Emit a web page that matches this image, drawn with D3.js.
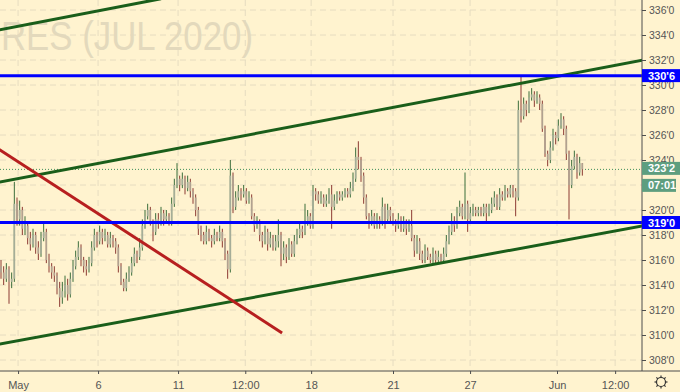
<!DOCTYPE html>
<html>
<head>
<meta charset="utf-8">
<script src="https://cdn.jsdelivr.net/npm/d3@7"></script>
<style>
  html, body { margin: 0; padding: 0; background: #fff3cf; }
  svg { display: block; font-family: 'Liberation Sans', Arial, sans-serif; }
</style>
</head>
<body>
<svg id="chart"></svg>
<script>
/* global d3 */
const width = 680
const height = 392
const plot = { right: 642, bottom: 371 }

/** hourly-ish bars, corn JUL 2020 */
const opens = [
  315.5, 315.0, 314.5, 315.25, 314.25, 314.5, 320.5, 319.25, 320.0, 318.5,
  318.75, 317.75, 317.25, 318.0, 317.0, 316.5, 317.75, 318.25, 316.0, 315.5,
  315.0, 314.75, 313.75, 313.0, 313.5, 314.0, 313.25, 314.5, 315.5, 316.25,
  317.0, 316.0, 315.5, 315.25, 315.75, 317.0, 318.0, 317.5, 318.25, 317.75,
  318.0, 317.25, 317.75, 317.5, 317.0, 315.5, 314.25, 313.75, 314.5, 315.0,
  315.75, 316.5, 316.25, 317.0, 318.75, 319.5, 320.0, 319.0, 318.25, 319.25,
  319.0, 319.75, 319.25, 319.5, 319.0, 320.5, 322.0, 322.5, 322.0, 322.5,
  321.75, 322.25, 321.5, 321.0, 320.0, 318.5, 318.0, 317.5, 318.25, 317.75,
  317.5, 318.0, 317.75, 318.25, 317.5, 316.5, 315.25, 322.75, 320.25, 321.0,
  321.5, 321.25, 321.5, 320.75, 321.0, 319.5, 318.75, 319.0, 318.0, 317.5,
  318.25, 317.25, 317.75, 317.0, 317.5, 318.0, 316.5, 317.0, 316.25, 317.25,
  316.5, 317.5, 318.0, 318.5, 318.25, 319.0, 319.5, 318.75, 321.5, 321.25,
  320.75, 321.0, 320.5, 320.75, 321.25, 320.25, 320.75, 321.25, 321.0, 321.25,
  321.5, 321.25, 321.75, 322.5, 324.25, 324.0, 322.75, 321.0, 319.5, 319.0,
  319.5, 318.75, 319.25, 319.0, 320.25, 319.25, 320.0, 319.5, 319.0, 318.75,
  319.25, 318.5, 319.0, 318.5, 318.75, 317.75, 316.75, 317.5, 316.5, 316.0,
  316.75, 316.25, 316.0, 316.5, 316.0, 316.25, 316.0, 316.5, 317.5, 318.25,
  319.0, 318.75, 319.75, 320.25, 319.5, 320.5, 319.25, 319.75, 320.0, 319.75,
  320.0, 319.75, 320.25, 319.75, 320.0, 320.5, 321.0, 320.25, 321.25, 321.0,
  321.5, 321.25, 321.75, 321.5, 321.0, 328.0, 327.5, 328.5, 328.0, 329.0,
  329.25, 328.75, 329.0, 328.5, 326.5, 324.5, 324.0, 325.0, 326.0, 325.75,
  326.75, 327.25, 326.5, 324.5, 322.0, 323.5, 324.25, 323.0, 323.75
]
const highs = [
  316.0, 315.5, 315.75, 315.5, 315.0, 322.25, 321.0, 320.75, 320.25, 319.5,
  319.0, 318.25, 318.5, 318.25, 317.5, 318.25, 319.0, 318.5, 316.5, 315.75,
  315.5, 315.0, 314.25, 314.25, 314.75, 314.5, 315.0, 316.0, 316.75, 317.5,
  317.25, 316.25, 316.0, 316.25, 317.5, 318.5, 318.25, 318.75, 318.5, 318.5,
  318.25, 318.25, 318.0, 317.75, 317.25, 315.75, 314.5, 315.0, 315.5, 316.25,
  317.0, 316.75, 317.75, 319.25, 320.0, 320.5, 320.25, 319.25, 319.75, 319.75,
  320.25, 320.0, 320.0, 319.75, 321.0, 322.5, 323.75, 322.75, 323.0, 322.75,
  322.75, 322.5, 321.75, 321.25, 320.25, 318.75, 318.25, 318.75, 318.5, 318.0,
  318.5, 318.25, 318.75, 318.5, 317.75, 316.75, 324.0, 323.0, 321.5, 322.0,
  321.75, 322.0, 321.75, 321.5, 321.25, 319.75, 319.5, 319.25, 318.25, 318.75,
  318.5, 318.25, 318.0, 318.0, 319.25, 318.25, 317.5, 317.25, 317.75, 317.5,
  318.0, 318.5, 319.0, 318.75, 320.5, 320.0, 319.75, 322.0, 321.75, 321.5,
  321.5, 321.25, 321.25, 321.75, 322.0, 321.25, 321.5, 321.5, 321.5, 321.75,
  321.75, 322.25, 323.0, 325.0, 325.5, 324.25, 323.0, 321.25, 319.75, 320.0,
  319.75, 319.75, 319.5, 321.0, 320.5, 320.5, 320.25, 319.75, 319.25, 319.75,
  319.5, 319.5, 319.25, 319.25, 320.0, 318.0, 318.0, 317.75, 316.75, 317.25,
  317.0, 316.5, 317.0, 316.75, 316.75, 316.5, 317.0, 318.0, 318.75, 319.75,
  319.5, 320.25, 320.75, 320.5, 323.0, 320.75, 320.25, 320.5, 320.25, 320.25,
  320.25, 320.5, 320.5, 320.5, 321.0, 321.5, 321.25, 321.75, 321.5, 322.0,
  321.75, 322.0, 322.0, 321.75, 328.75, 330.75, 329.0, 328.75, 329.5, 329.75,
  329.5, 329.5, 329.25, 328.75, 326.75, 324.75, 325.5, 326.5, 326.25, 327.25,
  327.75, 327.5, 326.75, 324.75, 324.0, 324.75, 324.5, 324.25, 323.75
]
const lows = [
  314.5, 314.0, 314.25, 312.5, 313.75, 314.25, 318.75, 318.75, 318.0, 318.0,
  317.25, 316.75, 317.0, 316.5, 316.0, 316.25, 317.5, 315.75, 315.0, 314.5,
  314.25, 313.25, 312.25, 312.5, 313.0, 312.75, 313.0, 314.25, 315.25, 316.0,
  315.5, 315.0, 314.75, 315.0, 315.5, 316.75, 317.0, 317.25, 317.25, 317.5,
  317.0, 317.0, 317.0, 316.5, 315.0, 314.0, 313.5, 313.5, 314.25, 314.75,
  315.5, 315.75, 316.0, 316.75, 318.5, 319.25, 318.75, 317.5, 318.0, 318.5,
  318.75, 318.75, 319.0, 318.75, 318.75, 320.25, 321.75, 321.5, 321.75, 321.25,
  321.5, 321.0, 320.5, 319.5, 318.0, 317.5, 317.25, 317.25, 317.5, 317.0,
  317.25, 317.5, 317.5, 317.0, 316.0, 314.5, 315.0, 319.75, 320.0, 320.75,
  320.75, 321.0, 320.5, 320.5, 319.25, 318.25, 318.5, 317.5, 317.0, 317.25,
  316.75, 317.0, 316.75, 316.75, 317.0, 315.5, 316.0, 315.75, 316.0, 316.25,
  316.25, 317.25, 317.75, 317.75, 318.0, 318.75, 318.5, 318.5, 320.75, 320.5,
  320.5, 320.25, 320.25, 320.5, 318.5, 320.0, 320.5, 320.75, 320.75, 321.0,
  321.0, 321.0, 321.5, 322.25, 323.25, 322.25, 320.5, 319.25, 318.5, 318.75,
  318.5, 318.5, 318.5, 318.75, 318.5, 319.0, 319.0, 318.75, 318.25, 318.5,
  318.25, 318.25, 318.0, 318.25, 317.5, 316.25, 316.5, 316.0, 315.75, 315.75,
  316.0, 315.75, 315.75, 315.75, 315.75, 315.75, 315.75, 316.25, 317.25, 318.0,
  318.25, 318.5, 319.5, 319.25, 319.25, 318.25, 319.0, 319.5, 319.5, 319.5,
  319.5, 319.5, 319.0, 319.5, 319.75, 320.25, 320.0, 320.0, 320.75, 320.75,
  321.0, 321.0, 321.0, 319.5, 320.75, 327.0, 327.25, 327.5, 327.75, 328.75,
  328.25, 328.5, 328.0, 326.25, 324.25, 323.5, 323.75, 324.75, 325.25, 325.5,
  326.5, 326.0, 324.0, 319.25, 321.75, 323.25, 322.5, 322.75, 322.75
]
const closes = [
  315.0, 314.5, 315.25, 314.25, 314.5, 320.5, 319.25, 320.0, 318.5, 318.75,
  317.75, 317.25, 318.0, 317.0, 316.5, 317.75, 318.25, 316.0, 315.5, 315.0,
  314.75, 313.75, 313.0, 313.5, 314.0, 313.25, 314.5, 315.5, 316.25, 317.0,
  316.0, 315.5, 315.25, 315.75, 317.0, 318.0, 317.5, 318.25, 317.75, 318.0,
  317.25, 317.75, 317.5, 317.0, 315.5, 314.25, 313.75, 314.5, 315.0, 315.75,
  316.5, 316.25, 317.0, 318.75, 319.5, 320.0, 319.0, 318.25, 319.25, 319.0,
  319.75, 319.25, 319.5, 319.0, 320.5, 322.0, 322.5, 322.0, 322.5, 321.75,
  322.25, 321.5, 321.0, 320.0, 318.5, 318.0, 317.5, 318.25, 317.75, 317.5,
  318.0, 317.75, 318.25, 317.5, 316.5, 315.25, 322.75, 320.25, 321.0, 321.5,
  321.25, 321.5, 320.75, 321.0, 319.5, 318.75, 319.0, 318.0, 317.5, 318.25,
  317.25, 317.75, 317.0, 317.5, 318.0, 316.5, 317.0, 316.25, 317.25, 316.5,
  317.5, 318.0, 318.5, 318.25, 319.0, 319.5, 318.75, 321.5, 321.25, 320.75,
  321.0, 320.5, 320.75, 321.25, 320.25, 320.75, 321.25, 321.0, 321.25, 321.5,
  321.25, 321.75, 322.5, 324.25, 324.0, 322.75, 321.0, 319.5, 319.0, 319.5,
  318.75, 319.25, 319.0, 320.25, 319.25, 320.0, 319.5, 319.0, 318.75, 319.25,
  318.5, 319.0, 318.5, 318.75, 317.75, 316.75, 317.5, 316.5, 316.0, 316.75,
  316.25, 316.0, 316.5, 316.0, 316.25, 316.0, 316.5, 317.5, 318.25, 319.0,
  318.75, 319.75, 320.25, 319.5, 320.5, 319.25, 319.75, 320.0, 319.75, 320.0,
  319.75, 320.25, 319.75, 320.0, 320.5, 321.0, 320.25, 321.25, 321.0, 321.5,
  321.25, 321.75, 321.5, 321.0, 328.0, 327.5, 328.5, 328.0, 329.0, 329.25,
  328.75, 329.0, 328.5, 326.5, 324.5, 324.0, 325.0, 326.0, 325.75, 326.75,
  327.25, 326.5, 324.5, 322.0, 323.5, 324.25, 323.0, 323.75, 323.25
]

/** axis ticks (322'0 sits under the countdown tag, so it has no label) */
const priceTicks = [308, 310, 312, 314, 316, 318, 320, 322, 324, 326, 328, 330, 332, 334, 336]
const hiddenPriceLabels = [322]
const timeTickBars = [6.4, 36.4, 66.4, 91.6, 116.3, 147, 175.9, 208.5, 230.3]
const timeTickLabels = ['May', '6', '11', '12:00', '18', '21', '27', 'Jun', '12:00']

/** drawings: [bar, price] pairs */
const channelLines = [
  [[-1, 334.4], [60, 336.9]],
  [[-1, 322.22], [241, 332.0]],
  [[-1, 309.26], [241, 318.74]]
]
const redLine = [[-1, 324.89], [105.4, 310.16]]
const levels = [330.75, 319.0]
const lastPrice = 323.25
const countdown = '07:01'

const fmt = p => {
  const whole = Math.floor(p)
  return `${whole}'${Math.round((p - whole) * 8)}`
}

const data = closes.map((c, i) => ({ i, o: opens[i], h: highs[i], l: lows[i], c }))

const xScale = d3.scaleLinear().domain([0, 240]).range([1, 641])
const yScale = d3.scaleLinear().domain([308, 336]).range([360, 10])

const svg = d3.select('svg').attr('width', width).attr('height', height)

svg.append('rect').attr('width', width).attr('height', height).attr('fill', '#fff3cf')

svg.append('defs').append('clipPath').attr('id', 'plotClip')
  .append('rect').attr('width', plot.right).attr('height', plot.bottom)

const g = svg.append('g').attr('clip-path', 'url(#plotClip)')

/** Grid */
g.selectAll('.hgrid').data(priceTicks).enter().append('line')
  .attr('x1', 0).attr('x2', plot.right)
  .attr('y1', d => yScale(d)).attr('y2', d => yScale(d))
  .attr('stroke', '#e6dcc0').attr('stroke-dasharray', '6,4')
g.selectAll('.vgrid').data(timeTickBars).enter().append('line')
  .attr('x1', d => xScale(d)).attr('x2', d => xScale(d))
  .attr('y1', 0).attr('y2', plot.bottom)
  .attr('stroke', '#e6dcc0').attr('stroke-dasharray', '6,4')

/** Watermark (symbol name, cut at the left edge like the original) */
g.append('text')
  .attr('x', 1).attr('y', 50)
  .attr('font-size', 41)
  .attr('textLength', 252)
  .attr('lengthAdjust', 'spacingAndGlyphs')
  .attr('fill', '#e3d9bc')
  .text('RES (JUL 2020)')

/** Last price dotted line */
g.append('line')
  .attr('x1', 0).attr('x2', plot.right)
  .attr('y1', yScale(lastPrice)).attr('y2', yScale(lastPrice))
  .attr('stroke', '#3f8f5c').attr('stroke-dasharray', '1,2')

/** Candles */
const bodyW = 1.7
const candles = g.selectAll('.candle').data(data).enter().append('g')
candles.append('line')
  .attr('x1', d => xScale(d.i)).attr('x2', d => xScale(d.i))
  .attr('y1', d => yScale(d.h)).attr('y2', d => yScale(d.l))
  .attr('stroke', d => d.c >= d.o ? '#3b6e3b' : '#8c3a32')
  .attr('stroke-width', 1)
candles.append('rect')
  .attr('x', d => xScale(d.i) - bodyW / 2)
  .attr('width', bodyW)
  .attr('y', d => yScale(Math.max(d.o, d.c)))
  .attr('height', d => Math.max(1, yScale(Math.min(d.o, d.c)) - yScale(Math.max(d.o, d.c))))
  .attr('fill', d => d.c >= d.o ? '#a5ad98' : '#b0a290')

/** Trend lines */
const line = d3.line().x(d => xScale(d[0])).y(d => yScale(d[1]))
g.selectAll('.channel').data(channelLines).enter().append('path')
  .attr('d', line).attr('stroke', '#1a5e1a').attr('stroke-width', 3).attr('fill', 'none')
g.append('path').attr('d', line(redLine))
  .attr('stroke', '#b71f1f').attr('stroke-width', 3).attr('fill', 'none')
g.selectAll('.level').data(levels).enter().append('line')
  .attr('x1', 0).attr('x2', plot.right)
  .attr('y1', d => yScale(d)).attr('y2', d => yScale(d))
  .attr('stroke', '#0000ff').attr('stroke-width', 3)

/** Axes */
const yAxis = d3.axisRight(yScale).tickValues(priceTicks).tickSize(4).tickPadding(3)
  .tickFormat(d => hiddenPriceLabels.includes(d) ? '' : fmt(d))
const yG = svg.append('g').attr('transform', `translate(${plot.right},0)`).call(yAxis)
yG.select('.domain').attr('stroke', '#4d4d4d').attr('d', `M0,0V${plot.bottom}`)
yG.selectAll('.tick line').attr('stroke', '#4d4d4d')
yG.selectAll('.tick text').attr('fill', '#555').attr('font-size', 10.5)
  .attr('font-family', "'Liberation Sans', Arial, sans-serif")

const xAxis = d3.axisBottom(xScale).tickValues(timeTickBars).tickSize(3).tickPadding(7)
  .tickFormat((d, i) => timeTickLabels[i])
const xG = svg.append('g').attr('transform', `translate(0,${plot.bottom})`).call(xAxis)
xG.select('.domain').attr('stroke', '#4d4d4d').attr('d', `M0,0H${width}`)
xG.selectAll('.tick line').attr('stroke', '#4d4d4d')
xG.selectAll('.tick text').attr('fill', '#555').attr('font-size', 11)
  .attr('font-family', "'Liberation Sans', Arial, sans-serif")

/** Price tags */
const tag = (price, text, fill, dy, w) => {
  const y = yScale(price) + dy
  svg.append('rect').attr('x', plot.right).attr('y', y - 6.5).attr('width', w).attr('height', 13).attr('fill', fill)
  svg.append('text').attr('x', plot.right + 6).attr('y', y + 4)
    .attr('fill', '#fff').attr('font-size', 11).attr('font-weight', 'bold').text(text)
}
levels.forEach(p => tag(p, fmt(p), '#0000ff', 0, 38))
tag(lastPrice, fmt(lastPrice), '#5e9e7f', -1, 38)
tag(lastPrice, countdown, '#5e9e7f', 16, 34)

/** Settings gear */
const gear = svg.append('g').attr('transform', `translate(661,382)`)
  .attr('stroke', '#333').attr('fill', 'none').attr('stroke-width', 1.2)
gear.append('circle').attr('r', 4.5)
d3.range(8).forEach(k => {
  const a = k * Math.PI / 4
  gear.append('line')
    .attr('x1', Math.cos(a) * 4.5).attr('y1', Math.sin(a) * 4.5)
    .attr('x2', Math.cos(a) * 6.5).attr('y2', Math.sin(a) * 6.5)
})
</script>
</body>
</html>
